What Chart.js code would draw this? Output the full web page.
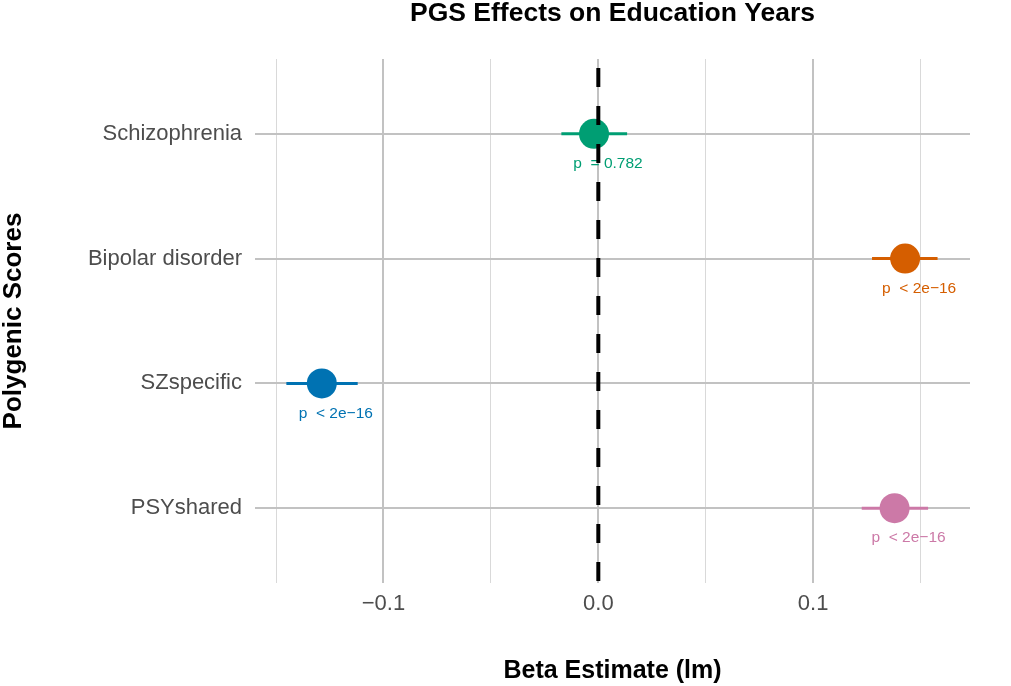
<!DOCTYPE html>
<html>
<head>
<meta charset="utf-8">
<script src="https://cdn.jsdelivr.net/npm/chart.js@4.4.1/dist/chart.umd.min.js"></script>
<style>
  html, body { margin: 0; padding: 0; background: #ffffff; }
  #wrap { width: 1011px; height: 686px; position: relative; }
</style>
</head>
<body>
<div id="wrap"><canvas id="c"></canvas></div>
<script>
// ---- data ----
const categories = ['Schizophrenia', 'Bipolar disorder', 'SZspecific', 'PSYshared'];
const estimates = [-0.002, 0.1428, -0.1287, 0.1379];
const ciLow = [-0.0172, 0.1274, -0.1452, 0.1226];
const ciHigh = [0.0134, 0.1579, -0.1120, 0.1535];
const pLabels = ['p  = 0.782', 'p  < 2e\u221216', 'p  < 2e\u221216', 'p  < 2e\u221216'];
const colors = ['#009E73', '#D55E00', '#0072B2', '#CC79A7'];
const gridValues = [-0.15, -0.1, -0.05, 0, 0.05, 0.1, 0.15];
const majorTicks = [-0.1, 0, 0.1];
const majorTickLabels = ['\u22120.1', '0.0', '0.1'];
const refLineX = 0;
const titleText = 'PGS Effects on Education Years';
const xTitle = 'Beta Estimate (lm)';
const yTitle = 'Polygenic Scores';

const FONT = '"Liberation Sans", Arial, Helvetica, sans-serif';
const yMin = 0.4, yMax = categories.length + 0.6;

function isMajor(v) {
  return majorTicks.some(m => Math.abs(m - v) < 1e-9);
}

const datasets = [];
// dashed reference line (top-most)
datasets.push({
  type: 'line',
  data: [{x: refLineX, y: yMin}, {x: refLineX, y: yMax}],
  borderColor: '#000000',
  borderWidth: 4,
  borderDash: [19, 19],
  borderDashOffset: 29,
  pointRadius: 0,
  fill: false
});
// points
datasets.push({
  type: 'scatter',
  data: estimates.map((e, i) => ({x: e, y: i + 1})),
  pointRadius: 15,
  pointBackgroundColor: colors,
  pointBorderWidth: 0,
  borderWidth: 0
});
// error bars
categories.forEach((c, i) => {
  datasets.push({
    type: 'line',
    data: [{x: ciLow[i], y: i + 1}, {x: ciHigh[i], y: i + 1}],
    borderColor: colors[i],
    borderWidth: 3,
    pointRadius: 0,
    fill: false
  });
});

const labelPlugin = {
  id: 'pLabels',
  beforeDatasetsDraw(chart) {
    const ctx = chart.ctx;
    const xs = chart.scales.x, ys = chart.scales.y;
    ctx.save();
    ctx.font = '15.5px ' + FONT;
    ctx.textAlign = 'center';
    ctx.textBaseline = 'middle';
    pLabels.forEach((t, i) => {
      ctx.fillStyle = colors[i];
      ctx.fillText(t, xs.getPixelForValue(estimates[i]) + 14, ys.getPixelForValue(i + 1) + 30);
    });
    ctx.restore();
  }
};

new Chart(document.getElementById('c'), {
  type: 'scatter',
  data: { datasets },
  plugins: [labelPlugin],
  options: {
    responsive: true,
    maintainAspectRatio: false,
    animation: false,
    layout: { padding: { left: 0, right: 41, top: 0, bottom: 0 } },
    plugins: {
      legend: { display: false },
      tooltip: { enabled: false },
      title: {
        display: true,
        text: titleText,
        fullSize: false,
        color: '#000000',
        font: { family: FONT, size: 26.5, weight: 'bold', lineHeight: 1 },
        padding: { top: 0, bottom: 32.5 }
      }
    },
    scales: {
      x: {
        type: 'linear',
        min: -0.1598,
        max: 0.173,
        border: { display: false },
        afterBuildTicks(scale) {
          scale.ticks = gridValues.map(v => ({ value: v }));
        },
        afterFit(scale) { scale.height = 103; },
        ticks: {
          color: '#4d4d4d',
          font: { family: FONT, size: 22 },
          padding: 8,
          autoSkip: false,
          maxRotation: 0,
          callback(v) {
            const k = majorTicks.findIndex(m => Math.abs(m - v) < 1e-9);
            return k >= 0 ? majorTickLabels[k] : '';
          }
        },
        grid: {
          drawTicks: false,
          color: ctx => isMajor(ctx.tick.value) ? '#c2c2c2' : '#d9d9d9',
          lineWidth: ctx => isMajor(ctx.tick.value) ? 2 : 1
        },
        title: {
          display: true,
          text: xTitle,
          color: '#000000',
          font: { family: FONT, size: 25, weight: 'bold', lineHeight: 1 },
          padding: { top: 0, bottom: 2 }
        }
      },
      y: {
        type: 'linear',
        reverse: true,
        min: yMin,
        max: yMax,
        border: { display: false },
        afterBuildTicks(scale) {
          scale.ticks = categories.map((c, i) => ({ value: i + 1 }));
        },
        afterFit(scale) { scale.width = 255; },
        ticks: {
          color: '#4d4d4d',
          font: { family: FONT, size: 22 },
          padding: 13,
          autoSkip: false,
          callback(v) { return categories[Math.round(v) - 1]; }
        },
        grid: {
          drawTicks: false,
          color: '#c2c2c2',
          lineWidth: 2
        },
        title: {
          display: true,
          text: yTitle,
          color: '#000000',
          font: { family: FONT, size: 26, weight: 'bold', lineHeight: 1 },
          padding: { top: 1, bottom: 0 }
        }
      }
    }
  }
});
</script>
</body>
</html>
